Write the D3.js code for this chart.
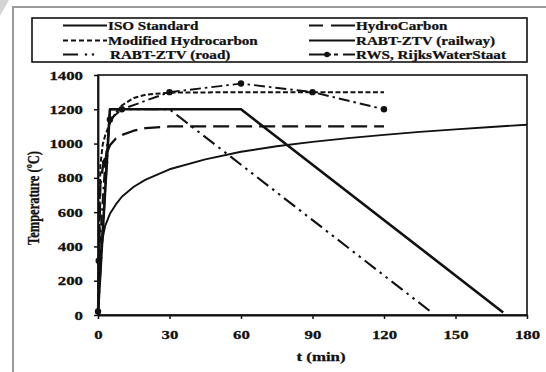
<!DOCTYPE html>
<html><head><meta charset="utf-8">
<script src="https://cdn.jsdelivr.net/npm/d3@7"></script>
<style>
body{margin:0;background:#fff;}
svg{display:block;}
text{font-family:"Liberation Serif","Times New Roman",serif;font-weight:bold;fill:#111;stroke:#111;stroke-width:0.25px;}
</style>
</head><body>
<svg id="c" width="546" height="372"></svg>
<script>
// ---- data ----
const timeTicks = [0, 30, 60, 90, 120, 150, 180];
const tempTicks = [0, 200, 400, 600, 800, 1000, 1200, 1400];

const isoTime = [0, 1, 2, 3, 5, 7.5, 10, 15, 20, 30, 45, 60, 75, 90, 105, 120, 135, 150, 165, 180];
const isoTemp = [20, 350, 450, 520, 590, 645, 690, 748, 790, 850, 908, 952, 984, 1010, 1032, 1051, 1068, 1083, 1097, 1110];

const hcTime = [0, 1, 2, 3, 5, 7.5, 10, 15, 20, 30, 60, 90, 120];
const hcTemp = [20, 760, 860, 920, 990, 1030, 1050, 1075, 1090, 1100, 1100, 1100, 1100];

const mhcTime = [0, 1, 2, 3, 5, 7.5, 10, 15, 20, 30, 60, 90, 120];
const mhcTemp = [20, 876, 996, 1047, 1120, 1181, 1222, 1266, 1285, 1297, 1300, 1300, 1300];

const railTime = [0, 5, 60, 170];
const railTemp = [15, 1200, 1200, 15];

const roadTime = [0, 5, 30, 140];
const roadTemp = [15, 1200, 1200, 15];

const rwsTime = [0, 0.3, 3, 5, 10, 30, 60, 90, 120];
const rwsTemp = [20, 317, 890, 1140, 1200, 1300, 1350, 1300, 1200];

const legendLabels = ["ISO Standard", "HydroCarbon", "Modified Hydrocarbon", "RABT-ZTV (railway)", "RABT-ZTV (road)", "RWS, RijksWaterStaat"];

// ---- drawing ----
const svg = d3.select("#c");
const SX = 1.4; // horizontal stretch of the original figure's text

// outer frame + folded corner
svg.append("path").attr("d", "M13,372 L13,7 L546,7").attr("fill", "none")
  .attr("stroke", "#9a9a9a").attr("stroke-width", 2);
svg.append("path").attr("d", "M0,0 L9,0 L0,16 Z").attr("fill", "#d4d4d4");

const L = 98, R = 527, T = 75, B = 315;
const x = d3.scaleLinear().domain([0, 180]).range([L, R]);
const y = d3.scaleLinear().domain([0, 1400]).range([B, T]);

// plot box
svg.append("rect").attr("x", L).attr("y", T).attr("width", R - L).attr("height", B - T)
  .attr("fill", "none").attr("stroke", "#111").attr("stroke-width", 1.6);

// axes
const ax = svg.append("g").attr("transform", `translate(0,${B})`)
  .call(d3.axisBottom(x).tickValues(timeTicks).tickFormat(d3.format("d")).tickSize(4).tickSizeOuter(0));
const ay = svg.append("g").attr("transform", `translate(${L},0)`)
  .call(d3.axisLeft(y).tickValues(tempTicks).tickFormat(d3.format("d")).tickSize(4).tickSizeOuter(0));
[ax, ay].forEach(g => {
  g.select(".domain").attr("stroke", "#111").attr("stroke-width", 1.8);
  g.selectAll(".tick line").attr("stroke", "#111").attr("stroke-width", 1.5);
  g.selectAll(".tick text").attr("font-size", 12).attr("font-family", null).attr("fill", "#111");
});
ax.selectAll(".tick text").attr("y", 0).attr("dy", null)
  .attr("transform", `translate(0,24) scale(${SX},1)`);
ay.selectAll(".tick text").attr("x", 0).attr("dy", "0.34em")
  .attr("transform", `translate(-15,0) scale(${SX},1)`);

// axis titles
svg.append("text").attr("text-anchor", "middle").attr("font-size", 12)
  .attr("transform", `translate(321,361) scale(${SX},1)`).text("t (min)");
svg.append("text").attr("text-anchor", "middle").attr("font-size", 12.5)
  .attr("transform", `translate(39,198) scale(${SX},1) rotate(-90)`).text("Temperature (ºC)");

// series
const line = d3.line().x(d => x(d[0])).y(d => y(d[1]));
const zip = (a, b) => a.map((v, i) => [v, b[i]]);
const styles = [
  {data: zip(isoTime, isoTemp), dash: null, w: 1.9},
  {data: zip(hcTime, hcTemp), dash: "16,7", w: 2.3},
  {data: zip(mhcTime, mhcTemp), dash: "5,2.5", w: 2},
  {data: zip(railTime, railTemp), dash: null, w: 2.6},
  {data: zip(roadTime, roadTemp), dash: "14,5,2.5,5,2.5,5", w: 2.1},
  {data: zip(rwsTime, rwsTemp), dash: "11,4,2.5,4", w: 1.9}
];
styles.forEach(s => {
  svg.append("path").attr("d", line(s.data)).attr("fill", "none")
    .attr("stroke", "#111").attr("stroke-width", s.w)
    .attr("stroke-dasharray", s.dash).attr("stroke-linejoin", "round");
});
svg.selectAll("circle.rws").data(zip(rwsTime, rwsTemp)).enter().append("circle")
  .attr("class", "rws").attr("cx", d => x(d[0])).attr("cy", d => y(d[1]))
  .attr("r", 3.2).attr("fill", "#111");

// legend
svg.append("rect").attr("x", 32).attr("y", 18).attr("width", 495).attr("height", 44)
  .attr("fill", "#fff").attr("stroke", "#111").attr("stroke-width", 1.6);
const rowY = [25.5, 40.5, 54.5];
const colX = [[63, 107], [309, 355]];
legendLabels.forEach((lab, i) => {
  const c = i % 2, r = Math.floor(i / 2);
  const [x0, x1] = colX[c];
  const yy = rowY[r];
  const g = svg.append("g");
  const sw = 2;
  if (i === 4) {
    g.append("line").attr("x1", x0).attr("x2", x0 + 15).attr("y1", yy).attr("y2", yy)
      .attr("stroke", "#111").attr("stroke-width", sw);
    [86, 93].forEach(px => g.append("circle").attr("cx", px).attr("cy", yy).attr("r", 1.2).attr("fill", "#111"));
  } else if (i === 5) {
    g.append("line").attr("x1", x0).attr("x2", x0 + 22).attr("y1", yy).attr("y2", yy)
      .attr("stroke", "#111").attr("stroke-width", sw);
    g.append("circle").attr("cx", x0 + 18).attr("cy", yy).attr("r", 2.8).attr("fill", "#111");
    g.append("line").attr("x1", x0 + 25).attr("x2", x0 + 29).attr("y1", yy).attr("y2", yy)
      .attr("stroke", "#111").attr("stroke-width", sw);
    g.append("line").attr("x1", x0 + 34).attr("x2", x1).attr("y1", yy).attr("y2", yy)
      .attr("stroke", "#111").attr("stroke-width", sw);
  } else if (i === 1) {
    g.append("line").attr("x1", x0).attr("x2", x0 + 14).attr("y1", yy).attr("y2", yy)
      .attr("stroke", "#111").attr("stroke-width", sw);
    g.append("line").attr("x1", x0 + 22).attr("x2", x1).attr("y1", yy).attr("y2", yy)
      .attr("stroke", "#111").attr("stroke-width", sw);
  } else {
    g.append("line").attr("x1", x0).attr("x2", x1).attr("y1", yy).attr("y2", yy)
      .attr("stroke", "#111").attr("stroke-width", sw)
      .attr("stroke-dasharray", i === 2 ? "5,3" : null);
  }
  g.append("text").attr("font-size", 11.5)
    .attr("transform", `translate(${x1 + (i === 4 ? 3 : 1)},${yy + 4}) scale(${SX * 0.94},1)`)
    .text(lab);
});
</script>
</body></html>
